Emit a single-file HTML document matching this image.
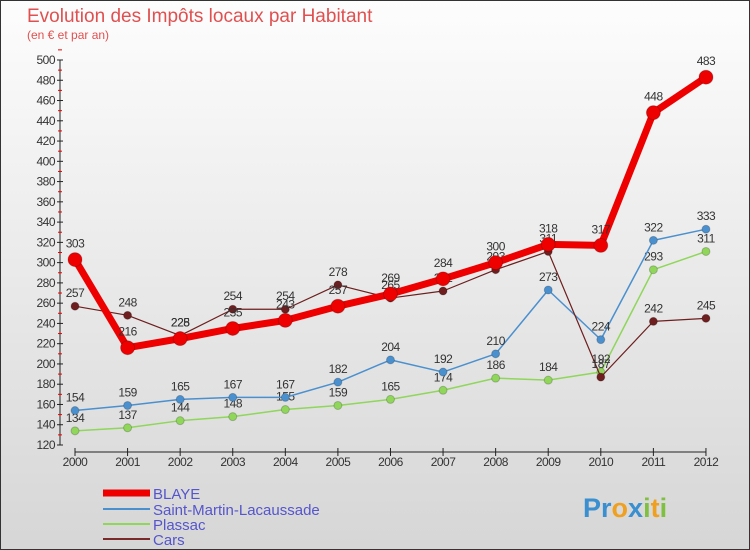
<!DOCTYPE html>
<html><head><meta charset="utf-8"><style>
body{margin:0;width:750px;height:550px;overflow:hidden;font-family:"Liberation Sans",sans-serif}
#c{position:absolute;left:0;top:0;width:748px;height:548px;border:1px solid #333;background:linear-gradient(#fdfdfd,#d6d6d6)}
</style></head><body>
<div id="c">
<svg id="s" width="750" height="550" style="position:absolute;left:-1px;top:-1px">
<text x="27" y="22" font-size="19" fill="#e05050">Evolution des Impôts locaux par Habitant</text>
<text x="27" y="39" font-size="12" fill="#e05050">(en € et par an)</text>
<g id="ax"></g><g id="ser"></g>
<g>
<line x1="103" y1="493" x2="150" y2="493" stroke="#e00" stroke-width="7"/><text x="153" y="499" font-size="15" fill="#55c">BLAYE</text>
<line x1="103" y1="509" x2="150" y2="509" stroke="#4a90cf" stroke-width="2"/><text x="153" y="515" font-size="15" fill="#55c">Saint-Martin-Lacaussade</text>
<line x1="103" y1="524" x2="150" y2="524" stroke="#8fd65a" stroke-width="2"/><text x="153" y="530" font-size="15" fill="#55c">Plassac</text>
<line x1="103" y1="539" x2="150" y2="539" stroke="#7a2a2a" stroke-width="2"/><text x="153" y="545" font-size="15" fill="#55c">Cars</text>
</g>
<text x="583" y="517" font-size="27" font-weight="bold"><tspan fill="#3a8fd0">Pr</tspan><tspan fill="#f0a020">o</tspan><tspan fill="#3a8fd0">x</tspan><tspan fill="#80c040">i</tspan><tspan fill="#f0a020">t</tspan><tspan fill="#80c040">i</tspan></text>
</svg></div>
<script>
const years=[2000,2001,2002,2003,2004,2005,2006,2007,2008,2009,2010,2011,2012];
const blaye=[303,216,225,235,243,257,269,284,300,318,317,448,483];
const stMartin=[154,159,165,167,167,182,204,192,210,273,224,322,333];
const plassac=[134,137,144,148,155,159,165,174,186,184,192,293,311];
const cars=[257,248,228,254,254,278,265,272,293,311,187,242,245];
const yTicks=[120,140,160,180,200,220,240,260,280,300,320,340,360,380,400,420,440,460,480,500];
const NS="http://www.w3.org/2000/svg";
const X=i=>75+i*52.58, Y=v=>445-(v-120)*385/380;
function mk(t,a,p){const e=document.createElementNS(NS,t);for(const k in a)e.setAttribute(k,a[k]);p.appendChild(e);return e;}
const ax=document.getElementById('ax'),ser=document.getElementById('ser');
const yl=mk('line',{x1:60,y1:Y(500),x2:60,y2:Y(120),stroke:'#222'},ax);


yTicks.forEach(v=>{mk('line',{x1:57,y1:Y(v),x2:63,y2:Y(v),stroke:'#222'},ax);
mk('line',{x1:58,y1:Y(v+10),x2:62,y2:Y(v+10),stroke:'#e00'},ax);
const t=mk('text',{x:55,y:Y(v)+4,'font-size':12,fill:'#333','text-anchor':'end','letter-spacing':'-0.5'},ax);t.textContent=v;

});
const xl=mk('line',{x1:X(0),y1:452,x2:X(12),y2:452,stroke:'#222'},ax);


years.forEach((y,i)=>{mk('line',{x1:X(i),y1:448,x2:X(i),y2:456,stroke:'#222'},ax);
const t=mk('text',{x:X(i),y:466,'font-size':12,fill:'#333','text-anchor':'middle','letter-spacing':'-0.5'},ax);t.textContent=y;

});
function series(d,col,w,r,name){const g=mk('g',{},ser);


mk('polyline',{points:d.map((v,i)=>X(i)+','+Y(v)).join(' '),fill:'none',stroke:col,'stroke-width':w,'stroke-linejoin':'round'},g);
d.forEach((v,i)=>{const c=mk('circle',{cx:X(i),cy:Y(v),r:r,fill:col,stroke:'rgba(0,0,0,0.2)'},g);


const t=mk('text',{x:X(i),y:Y(v)-r-5,'font-size':12,fill:'#333','text-anchor':'middle','letter-spacing':'-0.5'},g);t.textContent=v;

});}
series(plassac,'#8fd65a',1.5,4,'plassac');
series(stMartin,'#4a90cf',1.5,4,'saint-martin');
series(cars,'#6e1e1e',1.2,4,'cars');
series(blaye,'#ee0000',7,7,'blaye');
</script></body></html>
